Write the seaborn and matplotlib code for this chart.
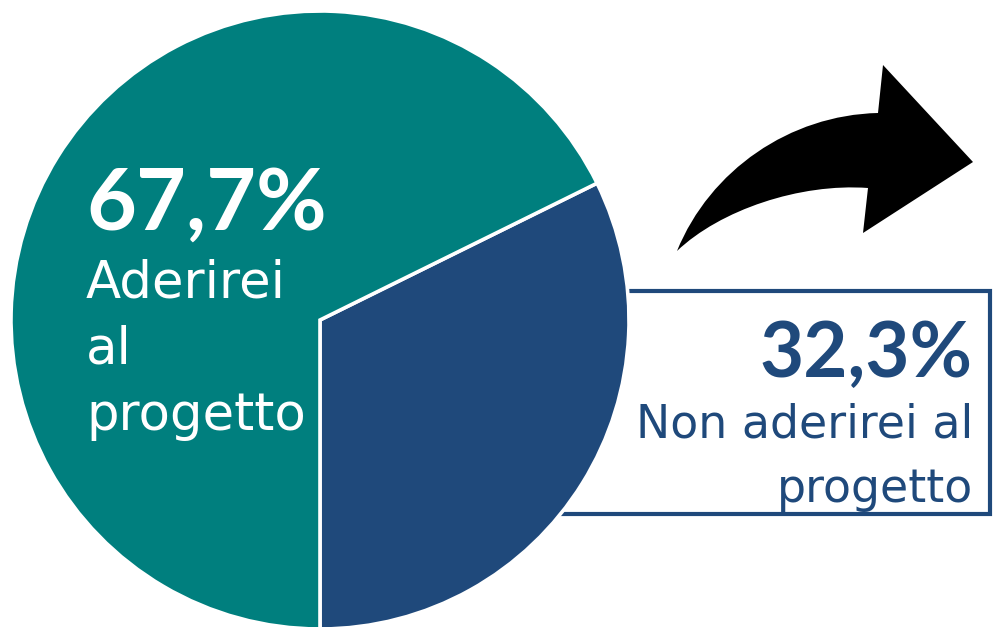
import matplotlib
matplotlib.use("Agg")
import matplotlib.pyplot as plt
from matplotlib.path import Path
from matplotlib.patches import PathPatch, Rectangle
import seaborn as sns

# Survey answers
categories = ["Non aderirei al progetto", "Aderirei al progetto"]
shares = [32.3, 67.7]

TEAL = "#007F7E"
NAVY = "#1F497B"
palette = sns.color_palette([NAVY, TEAL])

sns.set_theme(style="white")
plt.rcParams["font.family"] = ["DejaVu Sans"]

W, H = 993, 627
fig = plt.figure(figsize=(W / 100, H / 100), dpi=100)
fig.patch.set_facecolor("white")


def pct(v):
    return f"{v:.1f}%".replace(".", ",")


# background layer (label box), pixel coordinates with y pointing down
bg = fig.add_axes([0, 0, 1, 1], zorder=0)
bg.set_xlim(0, W)
bg.set_ylim(H, 0)
bg.axis("off")
bg.add_patch(Rectangle((420, 291), 570, 223, facecolor="white",
                       edgecolor=NAVY, linewidth=3.0))

# pie layer
cx, cy, r = 320, 320, 309
pie_ax = fig.add_axes([(cx - r) / W, (H - cy - r) / H, 2 * r / W, 2 * r / H],
                      zorder=1)
pie_ax.pie(shares, colors=palette, startangle=-90, counterclock=True,
           wedgeprops=dict(edgecolor="white", linewidth=2.6))
pie_ax.set_xlim(-1, 1)
pie_ax.set_ylim(-1, 1)
pie_ax.set_aspect("equal")
pie_ax.axis("off")

# overlay layer: arrow and texts
ov = fig.add_axes([0, 0, 1, 1], zorder=2)
ov.set_xlim(0, W)
ov.set_ylim(H, 0)
ov.axis("off")
ov.patch.set_alpha(0)

verts = [
    (677, 251),
    (710, 170), (790, 115), (878, 113),
    (883, 65),
    (973, 162),
    (863, 233),
    (868, 188),
    (800, 183), (720, 210), (677, 251),
    (677, 251),
]
codes = [Path.MOVETO,
         Path.CURVE4, Path.CURVE4, Path.CURVE4,
         Path.LINETO, Path.LINETO, Path.LINETO, Path.LINETO,
         Path.CURVE4, Path.CURVE4, Path.CURVE4,
         Path.CLOSEPOLY]
ov.add_patch(PathPatch(Path(verts, codes), facecolor="black",
                       edgecolor="none"))

big = dict(family=["Lato", "DejaVu Sans"], fontweight="bold")
label_font = dict(family=["DejaVu Sans"])

# share of "Aderirei al progetto"
ov.text(86, 230, pct(shares[1]), color="white", fontsize=62,
        ha="left", va="baseline", **big)
for line, y in zip(["Aderirei", "al", "progetto"], [298, 364, 430]):
    ov.text(86, y, line, color="white", fontsize=37, ha="left",
            va="baseline", **label_font)

# share of "Non aderirei al progetto"
ov.text(973, 377, pct(shares[0]), color=NAVY, fontsize=55,
        ha="right", va="baseline", **big)
for line, y in zip(["Non aderirei al", "progetto"], [437, 502]):
    ov.text(973, y, line, color=NAVY, fontsize=33, ha="right",
            va="baseline", **label_font)

fig.savefig("out.png", dpi=100, facecolor="white")
